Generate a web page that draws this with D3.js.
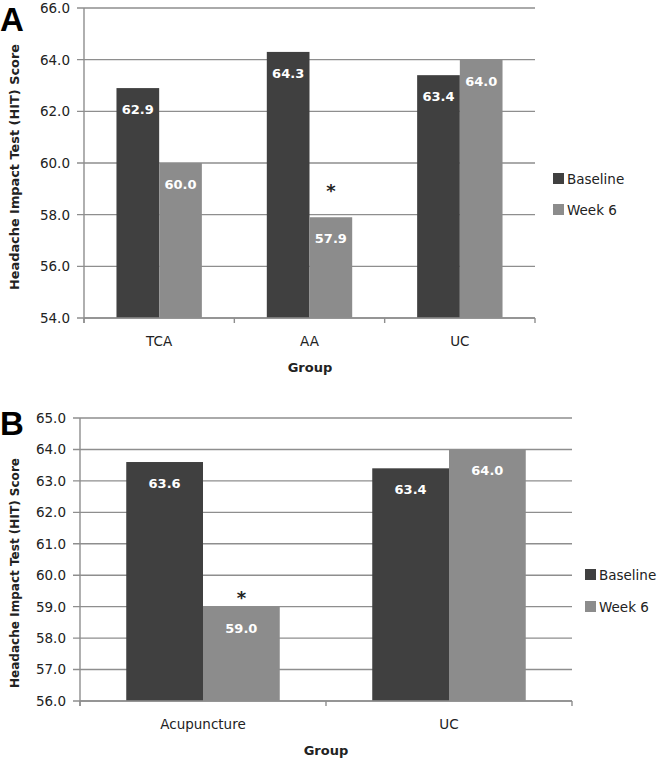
<!DOCTYPE html>
<html><head><meta charset="utf-8">
<script src="https://cdn.jsdelivr.net/npm/d3@7"></script>
<style>body{margin:0;background:#fff}svg{display:block}text{font-family:"DejaVu Sans",Verdana,sans-serif}</style>
</head><body><svg id="c" width="660" height="760"></svg>
<script>
const series = ["Baseline", "Week 6"];
const catsA = ["TCA", "AA", "UC"];
const baselineA = [62.9, 64.3, 63.4];
const week6A = [60.0, 57.9, 64.0];
const ticksA = [54, 56, 58, 60, 62, 64, 66];
const starA = ["AA"];
const catsB = ["Acupuncture", "UC"];
const baselineB = [63.6, 63.4];
const week6B = [59.0, 64.0];
const ticksB = [56, 57, 58, 59, 60, 61, 62, 63, 64, 65];
const starB = ["Acupuncture"];
const yTitle = "Headache Impact Test (HIT) Score";
const xTitle = "Group";
const colors = ["#404040", "#8c8c8c"];
const grid = "#8e8e8e";

const svg = d3.select("#c");

function panel(o) {
  const g = svg.append("g");
  const y = d3.scaleLinear().domain([o.ticks[0], o.ticks[o.ticks.length - 1]]).range([o.bottom, o.top]);
  const x = d3.scaleBand().domain(o.cats).range([o.left, o.right]).padding(0);
  const bw = x.bandwidth();
  const pad = (bw - 2 * bw * o.barFrac) / 2;
  const xs = d3.scaleBand().domain(series).range([pad, bw - pad]).padding(0);
  g.selectAll("line.grid").data(o.ticks).join("line")
    .attr("x1", o.left - 7).attr("x2", o.right)
    .attr("y1", d => y(d)).attr("y2", d => y(d))
    .attr("stroke", grid).attr("stroke-width", 1.4);
  g.append("line").attr("x1", o.left).attr("x2", o.left).attr("y1", o.top).attr("y2", o.bottom + 5)
    .attr("stroke", grid).attr("stroke-width", 1.4);
  g.selectAll("text.yt").data(o.ticks).join("text")
    .attr("x", o.left - 14).attr("y", d => y(d)).attr("dy", "0.36em")
    .attr("text-anchor", "end").attr("font-size", 13.5).attr("fill", "#222")
    .text(d => d3.format(".1f")(d));
  const data = [];
  o.cats.forEach((c, i) => {
    data.push({c, s: series[0], v: o.base[i], k: 0});
    data.push({c, s: series[1], v: o.wk[i], k: 1});
  });
  g.selectAll("rect.bar").data(data).join("rect")
    .attr("x", d => x(d.c) + xs(d.s)).attr("width", xs.bandwidth())
    .attr("y", d => y(d.v)).attr("height", d => o.bottom - y(d.v))
    .attr("fill", d => colors[d.k]);
  g.selectAll("text.val").data(data).join("text")
    .attr("x", d => x(d.c) + xs(d.s) + xs.bandwidth() / 2)
    .attr("y", d => y(d.v) + o.valOff).attr("text-anchor", "middle")
    .attr("font-size", 13).attr("font-weight", "bold").attr("fill", "#fff")
    .text(d => d3.format(".1f")(d.v));
  data.filter(d => d.k === 1 && o.star.includes(d.c)).forEach(d => {
    g.append("text").attr("x", x(d.c) + xs(d.s) + xs.bandwidth() / 2)
      .attr("y", y(d.v) - o.starOff).attr("text-anchor", "middle")
      .attr("font-size", 18).attr("font-weight", "bold").attr("fill", "#222").text("*");
  });
  g.append("line").attr("x1", o.left).attr("x2", o.right).attr("y1", o.bottom).attr("y2", o.bottom)
    .attr("stroke", grid).attr("stroke-width", 1.4);
  const bounds = o.cats.map(c => x(c)).concat([o.right]);
  g.selectAll("line.xt").data(bounds).join("line")
    .attr("x1", d => d).attr("x2", d => d).attr("y1", o.bottom).attr("y2", o.bottom + 5)
    .attr("stroke", grid).attr("stroke-width", 1.4);
  g.selectAll("text.xl").data(o.cats).join("text")
    .attr("x", d => x(d) + bw / 2).attr("y", o.bottom + 28)
    .attr("text-anchor", "middle").attr("font-size", 13.5).attr("fill", "#222").text(d => d);
  g.append("text").attr("x", o.xTitleX).attr("y", o.bottom + 54).attr("text-anchor", "middle")
    .attr("font-size", 13).attr("font-weight", "bold").attr("fill", "#222").text(xTitle);
  g.append("text").attr("transform", `translate(${19},${o.yTitleY}) rotate(-90)`)
    .attr("text-anchor", "middle").attr("font-size", 12.5).attr("font-weight", "bold")
    .attr("textLength", o.yTitleLen).attr("lengthAdjust", "spacingAndGlyphs")
    .attr("fill", "#222").text(yTitle);
  series.forEach((s, i) => {
    g.append("rect").attr("x", o.legX).attr("y", o.legY + i * o.legStep).attr("width", 11).attr("height", 11)
      .attr("fill", colors[i]);
    g.append("text").attr("x", o.legX + 14).attr("y", o.legY + i * o.legStep + 10.5)
      .attr("font-size", 13.5).attr("fill", "#222").text(s);
  });
  g.append("text").attr("x", o.letterX).attr("y", o.letterY).attr("font-size", 33)
    .attr("font-weight", "bold").attr("fill", "#000")
    .style("font-family", "'Liberation Sans', Arial, sans-serif").text(o.letter);
}

panel({cats: catsA, base: baselineA, wk: week6A, ticks: ticksA, star: starA,
  left: 84, right: 535, top: 8, bottom: 318, barFrac: 0.284, valOff: 26, starOff: 20,
  xTitleX: 310, yTitleY: 167, yTitleLen: 246, legX: 553, legY: 173, legStep: 31,
  letter: "A", letterX: 0, letterY: 31});
panel({cats: catsB, base: baselineB, wk: week6B, ticks: ticksB, star: starB,
  left: 80, right: 572, top: 418, bottom: 701, barFrac: 0.312, valOff: 26, starOff: 3,
  xTitleX: 326, yTitleY: 573, yTitleLen: 230, legX: 585, legY: 569, legStep: 32,
  letter: "B", letterX: 0, letterY: 435});
</script></body></html>
